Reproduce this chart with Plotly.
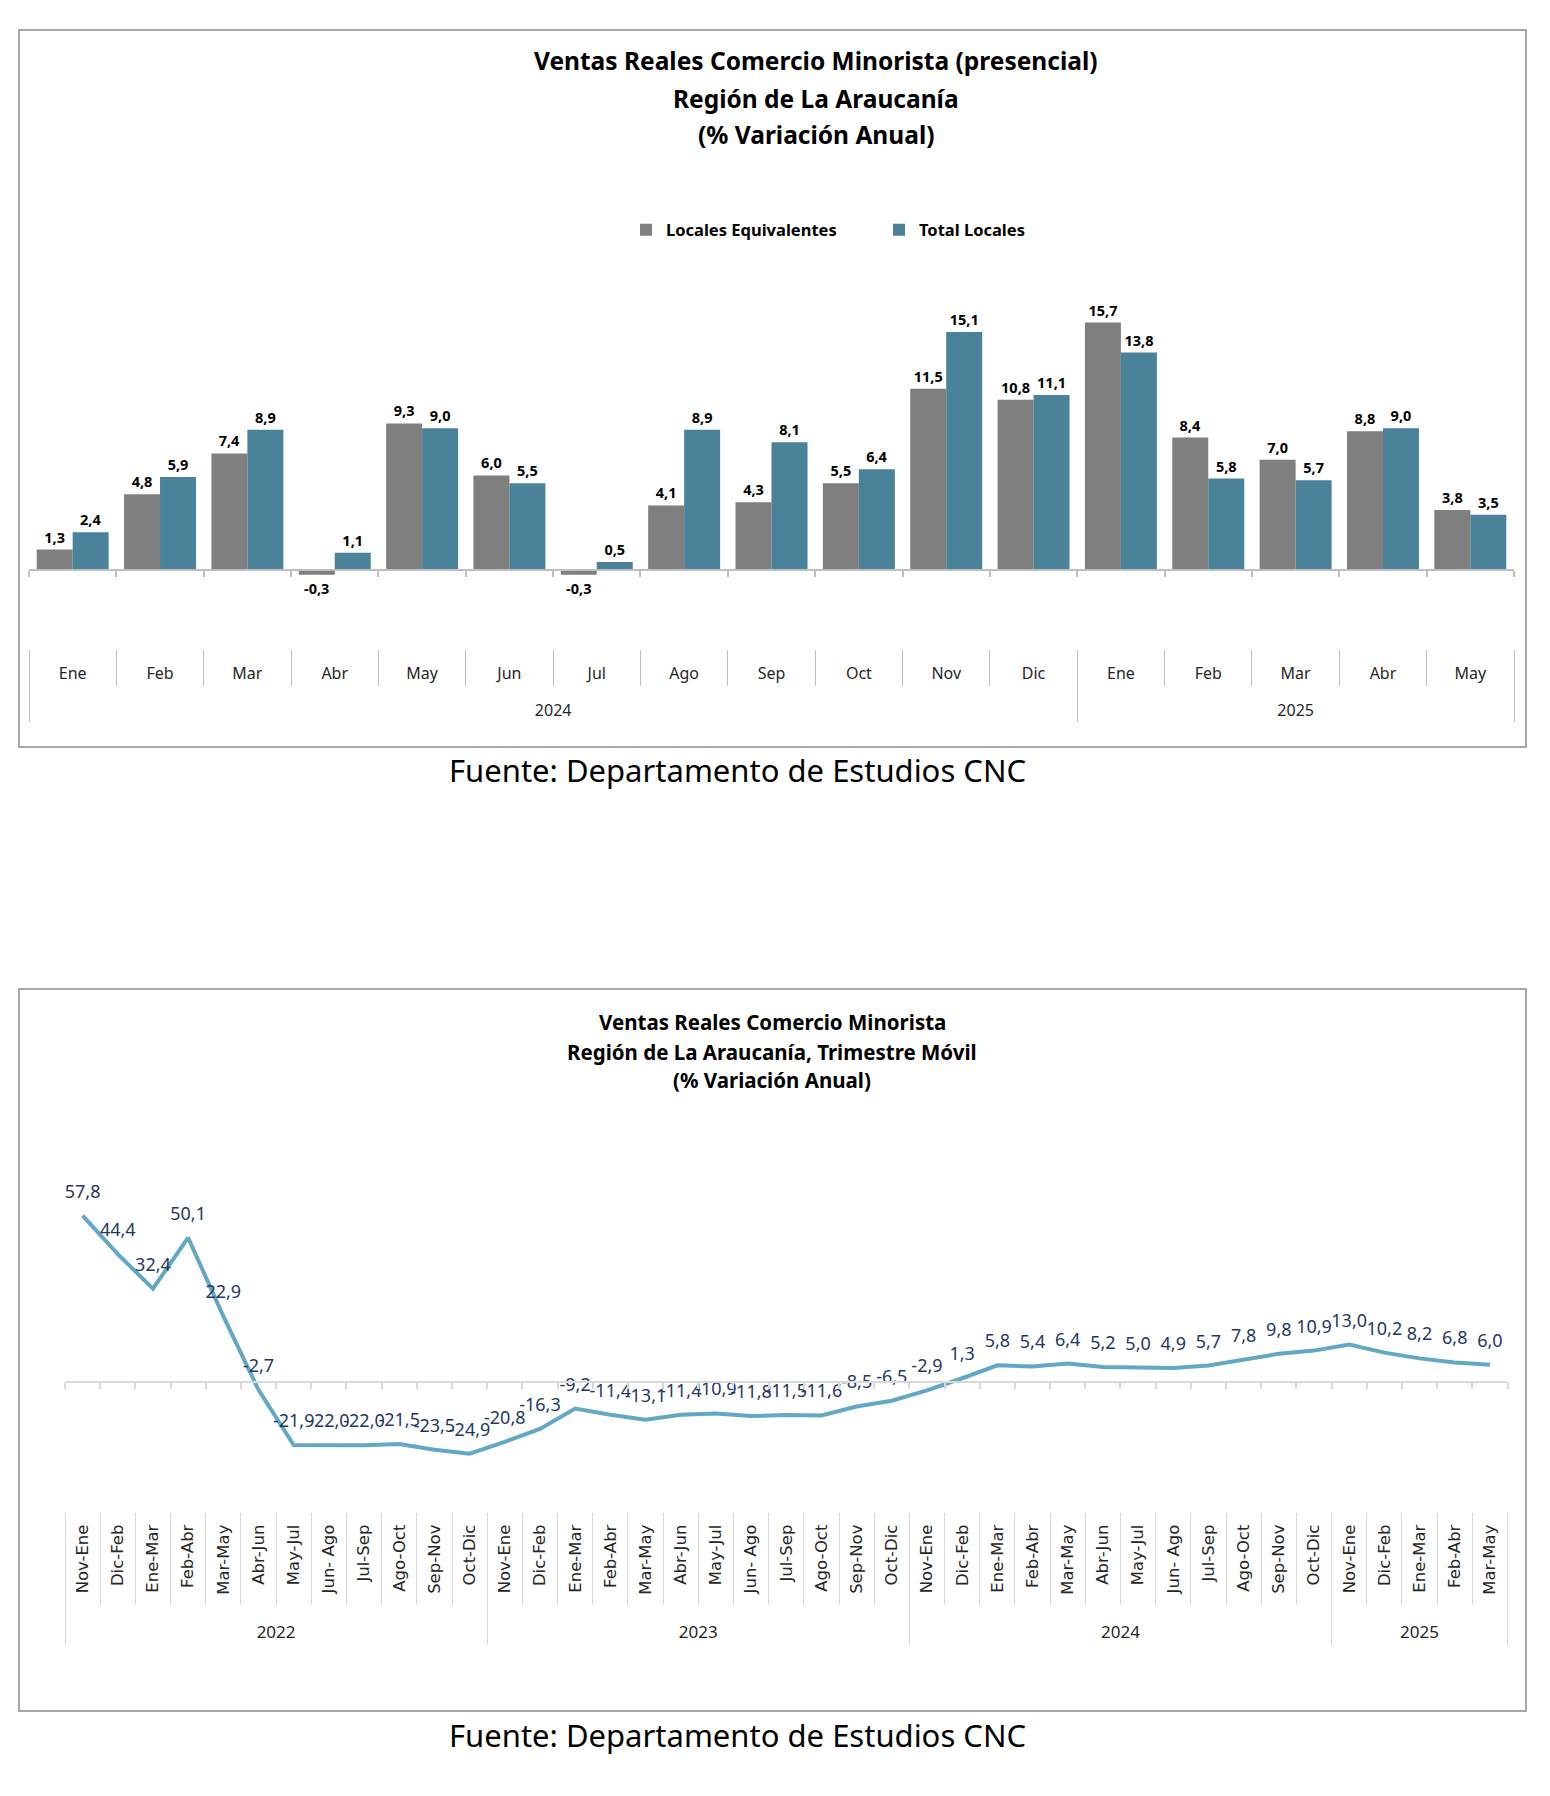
import plotly.graph_objects as go
import numpy as np

# ---------------- Data: chart 1 (monthly bars) ----------------
months_2024 = ["Ene", "Feb", "Mar", "Abr", "May", "Jun", "Jul", "Ago", "Sep", "Oct", "Nov", "Dic"]
months_2025 = ["Ene", "Feb", "Mar", "Abr", "May"]
locales_equivalentes = [1.3, 4.8, 7.4, -0.3, 9.3, 6.0, -0.3, 4.1, 4.3, 5.5, 11.5, 10.8,
                        15.7, 8.4, 7.0, 8.8, 3.8]
total_locales = [2.4, 5.9, 8.9, 1.1, 9.0, 5.5, 0.5, 8.9, 8.1, 6.4, 15.1, 11.1,
                 13.8, 5.8, 5.7, 9.0, 3.5]

# ---------------- Data: chart 2 (rolling quarter line) ----------------
periods_2022 = ["Nov-Ene", "Dic-Feb", "Ene-Mar", "Feb-Abr", "Mar-May", "Abr-Jun",
                "May-Jul", "Jun- Ago", "Jul-Sep", "Ago-Oct", "Sep-Nov", "Oct-Dic"]
periods_2023 = ["Nov-Ene", "Dic-Feb", "Ene-Mar", "Feb-Abr", "Mar-May", "Abr-Jun",
                "May-Jul", "Jun- Ago", "Jul-Sep", "Ago-Oct", "Sep-Nov", "Oct-Dic"]
periods_2024 = ["Nov-Ene", "Dic-Feb", "Ene-Mar", "Feb-Abr", "Mar-May", "Abr-Jun",
                "May-Jul", "Jun- Ago", "Jul-Sep", "Ago-Oct", "Sep-Nov", "Oct-Dic"]
periods_2025 = ["Nov-Ene", "Dic-Feb", "Ene-Mar", "Feb-Abr", "Mar-May"]
trimestre_movil = [57.8, 44.4, 32.4, 50.1, 22.9, -2.7, -21.9, -22.0, -22.0, -21.5, -23.5, -24.9,
                   -20.8, -16.3, -9.2, -11.4, -13.1, -11.4, -10.9, -11.8, -11.5, -11.6, -8.5, -6.5,
                   -2.9, 1.3, 5.8, 5.4, 6.4, 5.2, 5.0, 4.9, 5.7, 7.8, 9.8, 10.9,
                   13.0, 10.2, 8.2, 6.8, 6.0]

title1_lines = ["Ventas Reales Comercio Minorista (presencial)", "Región de La Araucanía", "(% Variación Anual)"]
title2_lines = ["Ventas Reales Comercio Minorista", "Región de La Araucanía, Trimestre Móvil", "(% Variación Anual)"]
source_text = "Fuente: Departamento de Estudios CNC"


def fmt(v):
    return f"{v:.1f}".replace(".", ",")


def group_info(groups):
    """(year, items) groups -> (labels, centers, boundaries) in category-index units"""
    labels, centers, bounds = [], [], [-0.5]
    start = 0
    for name, items in groups:
        labels.append(name)
        centers.append(start + (len(items) - 1) / 2)
        start += len(items)
        bounds.append(start - 0.5)
    return labels, centers, bounds


groups1 = [("2024", months_2024), ("2025", months_2025)]
groups2 = [("2022", periods_2022), ("2023", periods_2023), ("2024", periods_2024), ("2025", periods_2025)]

years1 = [g for g, items in groups1 for _ in items]
cats1 = [c for _, items in groups1 for c in items]
years2 = [g for g, items in groups2 for _ in items]
cats2 = [c for _, items in groups2 for c in items]
n1, n2 = len(cats1), len(cats2)
ylab1, ycen1, ybnd1 = group_info(groups1)
ylab2, ycen2, ybnd2 = group_info(groups2)
idx1, idx2 = list(range(n1)), list(range(n2))
bounds1 = list(np.arange(n1 + 1) - 0.5)
bounds2 = list(np.arange(n2 + 1) - 0.5)

# ---------------- Page geometry (pixels) ----------------
W, H, OFF = 1534, 1780, 8


def fx(px):
    return (px - OFF) / W


def fy(py):
    return 1 - (py - OFF) / H


FONT = "Noto Sans"
GRAY = "#7f7f7f"
TEAL = "#4a8299"
LINE = "#62a8c4"
NAVY = "#1f3864"
CLEAR = "rgba(0,0,0,0)"

# chart 1 plot area
X1_L, X1_R = 29, 1514
Y1_T, Y1_B = 270, 649
Y1_ZERO, Y1_SCALE = 570, 15.76
y1_range = [-(Y1_B - Y1_ZERO) / Y1_SCALE, (Y1_ZERO - Y1_T) / Y1_SCALE]

# chart 2 plot area
X2_L, X2_R = 65, 1507.5
Y2_T, Y2_B = 1150, 1512
Y2_ZERO, Y2_SCALE = 1382, 2.88
y2_range = [-(Y2_B - Y2_ZERO) / Y2_SCALE, (Y2_ZERO - Y2_T) / Y2_SCALE]

fig = go.Figure()

fig.add_trace(go.Bar(
    name="Locales Equivalentes", x=[years1, cats1], y=locales_equivalentes,
    marker=dict(color=GRAY, line=dict(width=0)),
    text=[fmt(v) for v in locales_equivalentes], textposition="outside",
    textfont=dict(family=FONT, size=14.5, color="#000000", weight="bold"),
    constraintext="none", cliponaxis=False, xaxis="x", yaxis="y",
))
fig.add_trace(go.Bar(
    name="Total Locales", x=[years1, cats1], y=total_locales,
    marker=dict(color=TEAL, line=dict(width=0)),
    text=[fmt(v) for v in total_locales], textposition="outside",
    textfont=dict(family=FONT, size=14.5, color="#000000", weight="bold"),
    constraintext="none", cliponaxis=False, xaxis="x", yaxis="y",
))

fig.add_trace(go.Scatter(
    x=[years2, cats2], y=trimestre_movil, mode="lines+markers+text",
    line=dict(color=LINE, width=4),
    marker=dict(size=20, color=CLEAR),
    text=[fmt(v) for v in trimestre_movil], textposition="top center",
    textfont=dict(family=FONT, size=18, color=NAVY),
    cliponaxis=False, showlegend=False, xaxis="x5", yaxis="y2",
))

# placeholder (empty) traces so that the overlay axes get rendered
for xa, ya in [("x2", "y"), ("x3", "y"), ("x4", "y"), ("x6", "y2"), ("x7", "y2"), ("x8", "y2")]:
    fig.add_trace(go.Scatter(x=[None], y=[None], mode="lines", xaxis=xa, yaxis=ya,
                             showlegend=False, hoverinfo="skip"))

hidden = dict(showgrid=False, zeroline=False, showline=False)


def label_axis(overlay, anchor, n, vals, text, ticklen, font, minor_vals, minor_len, minor_color, angle=0):
    return dict(overlaying=overlay, anchor=anchor, type="linear", range=[-0.5, n - 0.5],
                tickmode="array", tickvals=vals, ticktext=text, ticks="outside",
                ticklen=ticklen, tickcolor=CLEAR, tickfont=font, tickangle=angle,
                minor=dict(tickmode="array", tickvals=minor_vals, ticks="outside",
                           ticklen=minor_len, tickcolor=minor_color, tickwidth=1),
                **hidden)


def base_axis(overlay, pos, n, bvals, color):
    return dict(overlaying=overlay, anchor="free", position=pos, type="linear",
                range=[-0.5, n - 0.5], tickmode="array", tickvals=bvals,
                ticks="outside", ticklen=6, tickcolor=color, tickwidth=1.5,
                showline=True, linecolor=color, linewidth=2,
                showgrid=False, zeroline=False, showticklabels=False)


month_font1 = dict(family=FONT, size=16, color="#262626")
year_font1 = dict(family=FONT, size=16, color="#262626")
month_font2 = dict(family="DejaVu Sans", size=16.5, color="#262626")
year_font2 = dict(family=FONT, size=17, color="#262626")

layout = dict(
    width=W, height=H, margin=dict(l=0, r=0, t=0, b=0),
    paper_bgcolor="white", plot_bgcolor=CLEAR,
    font=dict(family=FONT, color="#000000"),
    separators=",.",
    barmode="group", bargap=0.176, bargroupgap=0,
    showlegend=True,
    legend=dict(orientation="h", x=fx(626), xanchor="left", y=fy(230), yanchor="middle",
                font=dict(family=FONT, size=16.5, color="#000000", weight="bold"),
                bgcolor=CLEAR, itemwidth=30, traceorder="normal",
                entrywidth=208, entrywidthmode="pixels"),
    # ---- chart 1 axes
    xaxis=dict(domain=[fx(X1_L), fx(X1_R)], anchor="y", type="multicategory",
               range=[-0.5, n1 - 0.5], visible=False),
    xaxis2=label_axis("x", "y", n1, idx1, cats1, 10, month_font1, bounds1, 36, "#bfbfbf"),
    xaxis3=label_axis("x", "y", n1, ycen1, ylab1, 47, year_font1, ybnd1, 72, "#bfbfbf"),
    xaxis4=base_axis("x", fy(Y1_ZERO), n1, bounds1, "#bfbfbf"),
    yaxis=dict(domain=[fy(Y1_B), fy(Y1_T)], anchor="x", range=y1_range, visible=False),
    # ---- chart 2 axes
    xaxis5=dict(domain=[fx(X2_L), fx(X2_R)], anchor="y2", type="multicategory",
                range=[-0.5, n2 - 0.5], visible=False),
    xaxis6=label_axis("x5", "y2", n2, idx2, cats2, 5, month_font2, bounds2, 92, "#d9d9d9", angle=-90),
    xaxis7=label_axis("x5", "y2", n2, ycen2, ylab2, 105, year_font2, ybnd2, 132, "#d9d9d9"),
    xaxis8=base_axis("x5", fy(Y2_ZERO), n2, bounds2, "#d9d9d9"),
    yaxis2=dict(domain=[fy(Y2_B), fy(Y2_T)], anchor="x5", range=y2_range, visible=False),
)
fig.update_layout(**layout)

# chart frames
for (x0, y0, x1, y1) in [(19, 30, 1526, 747), (19, 989, 1526, 1711)]:
    fig.add_shape(type="rect", xref="paper", yref="paper",
                  x0=fx(x0), x1=fx(x1), y0=fy(y1), y1=fy(y0),
                  line=dict(color="#a6a6a6", width=2), fillcolor=CLEAR, layer="below")

annotations = []
for txt, yc in zip(title1_lines, [60, 98, 135]):
    annotations.append(dict(text=txt, x=fx(816), y=fy(yc), xref="paper", yref="paper",
                            xanchor="center", yanchor="middle", showarrow=False,
                            font=dict(family=FONT, size=24.5, color="#000000", weight="bold")))
for txt, yc in zip(title2_lines, [1022, 1052, 1080]):
    annotations.append(dict(text=txt, x=fx(772), y=fy(yc), xref="paper", yref="paper",
                            xanchor="center", yanchor="middle", showarrow=False,
                            font=dict(family=FONT, size=20.5, color="#000000", weight="bold")))
for yc in [770, 1735]:
    annotations.append(dict(text=source_text, x=fx(737), y=fy(yc), xref="paper", yref="paper",
                            xanchor="center", yanchor="middle", showarrow=False,
                            font=dict(family=FONT, size=31, color="#000000")))
fig.update_layout(annotations=annotations)

fig.write_html("out.html")
